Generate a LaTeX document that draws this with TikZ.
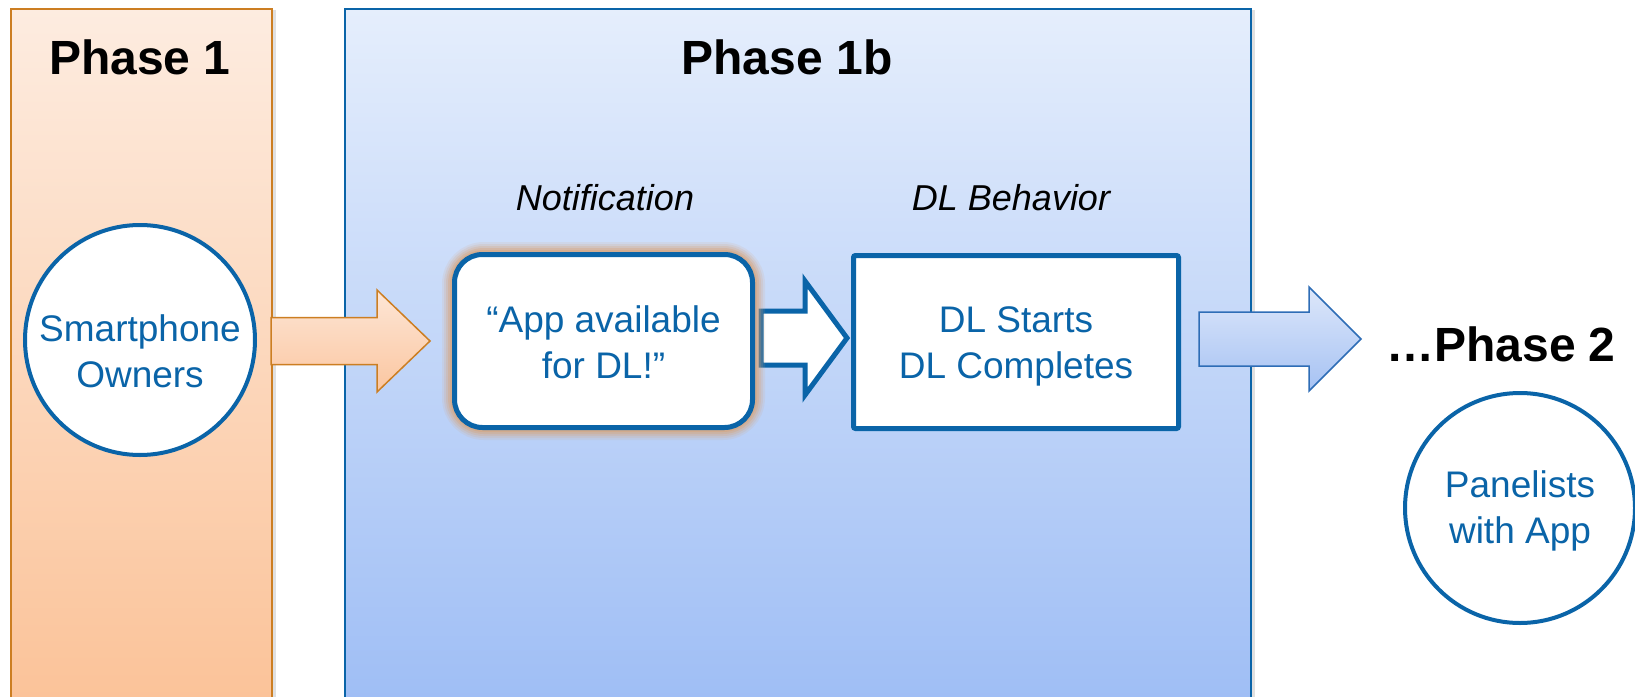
\documentclass[tikz,border=0pt]{standalone}
\usepackage{fontspec}
\setmainfont{Liberation Sans}
\usetikzlibrary{calc}
\definecolor{txtblue}{HTML}{0A64A8}
\definecolor{bordblue}{HTML}{0A64A8}
\definecolor{orbord}{HTML}{CC7E22}
\definecolor{p1top}{HTML}{FDECE0}
\definecolor{p1bot}{HTML}{FBC399}
\definecolor{p2top}{HTML}{E5EEFC}
\definecolor{p2bot}{HTML}{9FBEF5}
\definecolor{oatop}{HTML}{FDE6D6}
\definecolor{oabot}{HTML}{FBC6A0}
\definecolor{batop}{HTML}{DDE7FA}
\definecolor{babot}{HTML}{A6C2F3}
\definecolor{barbord}{HTML}{2E6DB6}
\definecolor{glow}{HTML}{D9A070}
\tikzset{
  header/.style={font=\fontsize{48}{58}\selectfont\bfseries, text=black},
  sublabel/.style={font=\fontsize{36}{44}\selectfont\itshape, text=black},
  body/.style={font=\fontsize{37}{46}\selectfont, text=txtblue, align=center, text depth=0pt},
  bubble/.style={body, circle, draw=bordblue, line width=4pt, fill=white, minimum size=230pt, inner sep=0pt},
  stepbox/.style={body, draw=bordblue, line width=5pt, fill=white, minimum width=298pt, minimum height=173pt, inner sep=0pt},
  panel/.style={line width=2pt},
}
\newcommand\blockarrow[7]{% style, x0, xh, xt, yc, shaft half, head half
  \path[#1] (#2,#5-#6) -- (#3,#5-#6) -- (#3,#5-#7) -- (#4,#5) -- (#3,#5+#7) -- (#3,#5+#6) -- (#2,#5+#6) -- cycle;}
\begin{document}
\begin{tikzpicture}[x=1pt,y=-1pt]
\clip (0,0) rectangle (1635,696);
\fill[white] (0,0) rectangle (1635,696);
% shadows of panels
\fill[black!12] (13.5,10) rectangle (276,710);
\fill[black!12] (347,10) rectangle (1255,710);
% Phase 1 panel
\shade[top color=p1top, bottom color=p1bot] (10.5,8.5) rectangle (272,700);
\draw[panel, orbord] (10.5,700) -- (10.5,8.5) -- (272,8.5) -- (272,700);
% Phase 1b panel
\shade[top color=p2top, bottom color=p2bot] (345,8.5) rectangle (1251,700);
\draw[panel, bordblue] (345,700) -- (345,8.5) -- (1251,8.5) -- (1251,700);

\node[header] (h1) at (140,57) {Phase 1};
\node[header] (h1b) at (787,57) {Phase 1b};
\node[sublabel] (notif) at (605,198) {Notification};
\node[sublabel] (beh) at (1011,198) {DL Behavior};
\node[header] (h2) at (1501,344) {…Phase 2};

% orange arrow
\blockarrow{shade, top color=oatop, bottom color=oabot, draw=orbord, line width=1.5pt}{271}{377}{430}{341}{23.5}{51}
% white arrow
\blockarrow{fill=white, draw=bordblue, line width=5pt}{761}{805}{847}{338}{27}{57}
% blue arrow
\blockarrow{shade, top color=batop, bottom color=babot, draw=barbord, line width=1.5pt}{1199}{1309}{1361}{339}{27}{52}

\node[bubble, text height=94pt] (owners) at (140,340) {Smartphone\\Owners};
% glow around app box
\foreach \w/\o in {24/0.12,20/0.16,16/0.22,12/0.3,8/0.4}{
  \draw[glow, line width=\w pt, opacity=\o, rounded corners=30pt] (454,254) rectangle (753,428);
}
\node[stepbox, rounded corners=28pt, text height=74pt] (app) at (603.5,341) {“App available\\for DL!”};
\node[stepbox, rounded corners=2pt, minimum width=325pt, text height=73pt] (dl) at (1016,342) {DL Starts\\DL Completes};
\node[bubble, text height=70pt] (panel) at (1520,508) {Panelists\\with App};
\end{tikzpicture}
\end{document}
